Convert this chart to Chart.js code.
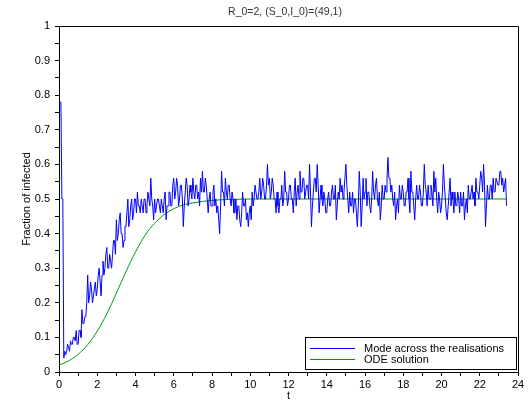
<!DOCTYPE html>
<html>
<head>
<meta charset="utf-8">
<style>
html,body{margin:0;padding:0;background:#fff;}
#wrap{width:532px;height:402px;}
</style>
<script src="https://cdn.jsdelivr.net/npm/chart.js"></script>
</head>
<body>
<div id="wrap"><canvas id="c" width="532" height="402"></canvas></div>
<script>
const chartTitle = 'R_0=2, (S_0,I_0)=(49,1)';
const xAxisTitle = 't';
const yAxisTitle = 'Fraction of infected';
const seriesNames = ['Mode across the realisations', 'ODE solution'];
const xTickLabels = [0, 2, 4, 6, 8, 10, 12, 14, 16, 18, 20, 22, 24];
const yTickLabels = ['0', '0.1', '0.2', '0.3', '0.4', '0.5', '0.6', '0.7', '0.8', '0.9', '1'];

// mode of the realisations, sampled every 0.05 time units from t = 0 (one row = 1 time unit)
const modeStart = 0;
const modeStep = 0.05;
const modeValues = [
  0.78,0.78,0.78,0.50,0.50,0.04,0.06,0.05,0.06,0.08,0.07,0.06,0.09,0.08,0.08,0.10,0.10,0.09,0.12,0.08,
  0.08,0.12,0.12,0.10,0.18,0.14,0.14,0.16,0.16,0.20,0.28,0.20,0.22,0.26,0.24,0.20,0.22,0.24,0.26,0.22,
  0.24,0.28,0.30,0.26,0.22,0.28,0.32,0.28,0.30,0.34,0.36,0.30,0.30,0.34,0.32,0.30,0.34,0.38,0.38,0.34,
  0.44,0.38,0.40,0.44,0.46,0.40,0.40,0.36,0.38,0.42,0.42,0.46,0.50,0.42,0.44,0.48,0.50,0.44,0.46,0.50,
  0.50,0.46,0.52,0.48,0.48,0.46,0.50,0.48,0.46,0.50,0.50,0.46,0.48,0.52,0.50,0.48,0.56,0.50,0.48,0.44,
  0.50,0.46,0.48,0.50,0.50,0.48,0.46,0.50,0.48,0.46,0.50,0.52,0.44,0.48,0.48,0.52,0.52,0.48,0.48,0.54,
  0.56,0.50,0.52,0.56,0.54,0.48,0.50,0.54,0.54,0.50,0.42,0.48,0.52,0.56,0.54,0.48,0.50,0.54,0.52,0.50,
  0.56,0.52,0.50,0.54,0.54,0.50,0.52,0.48,0.56,0.52,0.58,0.52,0.52,0.56,0.54,0.50,0.46,0.50,0.52,0.48,
  0.48,0.52,0.54,0.48,0.50,0.46,0.48,0.44,0.40,0.48,0.58,0.52,0.52,0.48,0.56,0.52,0.50,0.54,0.54,0.50,
  0.48,0.52,0.50,0.46,0.46,0.50,0.44,0.48,0.48,0.44,0.42,0.46,0.52,0.48,0.48,0.50,0.44,0.46,0.42,0.46,
  0.48,0.44,0.52,0.48,0.50,0.54,0.54,0.50,0.50,0.52,0.56,0.50,0.52,0.56,0.54,0.50,0.50,0.54,0.60,0.54,
  0.56,0.50,0.52,0.56,0.54,0.50,0.50,0.46,0.52,0.48,0.46,0.50,0.50,0.54,0.48,0.50,0.58,0.52,0.52,0.48,
  0.50,0.54,0.54,0.50,0.50,0.46,0.52,0.56,0.48,0.52,0.54,0.50,0.58,0.52,0.52,0.56,0.56,0.50,0.52,0.54,
  0.54,0.50,0.60,0.52,0.42,0.48,0.52,0.56,0.56,0.52,0.60,0.54,0.46,0.50,0.54,0.50,0.48,0.52,0.50,0.46,
  0.46,0.50,0.52,0.48,0.48,0.52,0.54,0.50,0.50,0.54,0.44,0.48,0.52,0.50,0.56,0.52,0.54,0.50,0.52,0.56,
  0.60,0.54,0.50,0.46,0.52,0.48,0.48,0.52,0.46,0.50,0.50,0.46,0.42,0.48,0.58,0.52,0.42,0.48,0.56,0.50,
  0.52,0.56,0.48,0.52,0.52,0.48,0.46,0.50,0.58,0.52,0.50,0.54,0.56,0.50,0.48,0.52,0.44,0.48,0.54,0.50,
  0.50,0.54,0.52,0.56,0.62,0.56,0.56,0.52,0.54,0.50,0.48,0.52,0.44,0.48,0.50,0.46,0.54,0.50,0.50,0.54,
  0.52,0.48,0.48,0.52,0.52,0.56,0.50,0.46,0.58,0.52,0.52,0.48,0.44,0.50,0.54,0.50,0.50,0.54,0.52,0.48,
  0.48,0.52,0.60,0.54,0.52,0.48,0.54,0.50,0.50,0.54,0.52,0.48,0.58,0.52,0.56,0.50,0.46,0.52,0.50,0.46,
  0.48,0.52,0.60,0.54,0.50,0.46,0.44,0.48,0.52,0.56,0.48,0.52,0.50,0.46,0.52,0.48,0.48,0.52,0.50,0.46,
  0.52,0.48,0.48,0.52,0.44,0.48,0.50,0.46,0.54,0.50,0.50,0.52,0.54,0.50,0.52,0.48,0.56,0.52,0.52,0.50,
  0.54,0.58,0.56,0.52,0.60,0.54,0.42,0.48,0.54,0.50,0.50,0.54,0.54,0.50,0.56,0.52,0.52,0.56,0.56,0.54,
  0.54,0.58,0.58,0.54,0.56,0.52,0.54,0.56,0.48
];

// ODE solution read at these times
const odeTimes  = [0, 0.5, 1, 1.5, 2, 2.5, 3, 3.5, 4, 4.5, 5, 5.5, 6, 6.5, 7, 7.5, 8, 9, 10, 12, 16, 20, 23.4];
const odeValues = [0.02, 0.032, 0.051, 0.079, 0.118, 0.168, 0.228, 0.29, 0.347, 0.395, 0.43, 0.455, 0.472, 0.483, 0.489, 0.493, 0.496, 0.499, 0.5, 0.5, 0.5, 0.5, 0.5];

const FONT = '"Liberation Sans", Arial, Helvetica, sans-serif';
Chart.defaults.font.family = FONT;
Chart.defaults.color = '#000';

const modeData = modeValues.map((v, i) => ({ x: +(modeStart + i * modeStep).toFixed(3), y: v }));
const odeData = odeTimes.map((t, i) => ({ x: t, y: odeValues[i] }));

const framePlugin = {
  id: 'frame',
  afterDraw(chart) {
    const { ctx, chartArea: a } = chart;
    ctx.save();
    ctx.strokeStyle = '#000';
    ctx.lineWidth = 1;
    ctx.beginPath();
    ctx.moveTo(Math.round(a.left), Math.round(a.top) + 0.5);
    ctx.lineTo(Math.round(a.right) + 0.5, Math.round(a.top) + 0.5);
    ctx.lineTo(Math.round(a.right) + 0.5, Math.round(a.bottom));
    ctx.stroke();
    // title
    ctx.fillStyle = '#333';
    ctx.font = '10.5px ' + FONT;
    ctx.textAlign = 'center';
    ctx.textBaseline = 'middle';
    ctx.fillText(chartTitle, 285, 12);
    // legend box
    const bx = 305, by = 337, bw = 211, bh = 32;
    ctx.fillStyle = '#fff';
    ctx.fillRect(bx, by, bw, bh);
    ctx.strokeStyle = '#000';
    ctx.strokeRect(bx + 0.5, by + 0.5, bw, bh);
    const rows = [348.5, 359.5];
    chart.data.datasets.forEach((ds, i) => {
      ctx.strokeStyle = ds.borderColor;
      ctx.lineWidth = 1;
      ctx.beginPath();
      ctx.moveTo(310, rows[i]);
      ctx.lineTo(355, rows[i]);
      ctx.stroke();
      ctx.fillStyle = '#000';
      ctx.font = '11px ' + FONT;
      ctx.textAlign = 'left';
      ctx.textBaseline = 'middle';
      ctx.fillText(ds.label, 364, rows[i]);
    });
    ctx.restore();
  }
};

new Chart(document.getElementById('c'), {
  type: 'line',
  data: {
    datasets: [
      { label: seriesNames[0], data: modeData, borderColor: '#0000ff', borderWidth: 1, pointRadius: 0, tension: 0, fill: false },
      { label: seriesNames[1], data: odeData, borderColor: '#009a00', borderWidth: 1, pointRadius: 0, cubicInterpolationMode: 'monotone', fill: false }
    ]
  },
  options: {
    responsive: false,
    animation: false,
    devicePixelRatio: 1,
    layout: { padding: { top: 26, right: 14, bottom: 0, left: 0 } },
    plugins: { legend: { display: false }, title: { display: false }, tooltip: { enabled: false } },
    scales: {
      x: {
        type: 'linear', min: 0, max: 24,
        ticks: {
          stepSize: 1, autoSkip: false, maxRotation: 0, padding: 2,
          font: { size: 11 }, color: '#000',
          callback: (v) => { const l = xTickLabels.find(t => Math.abs(t - v) < 1e-6); return l === undefined ? '' : String(l); }
        },
        grid: { display: true, drawOnChartArea: false, drawTicks: true, tickLength: 4, color: '#000', lineWidth: 1 },
        border: { display: true, color: '#000', width: 1 },
        title: { display: true, text: xAxisTitle, font: { size: 11 }, color: '#000', padding: { top: 0, bottom: -1 } },
        afterFit: (s) => { s.height = 30; }
      },
      y: {
        type: 'linear', min: 0, max: 1,
        ticks: {
          stepSize: 0.05, autoSkip: false, padding: 5,
          font: { size: 11 }, color: '#000',
          callback: (v) => { const l = yTickLabels.find(t => Math.abs(Number(t) - v) < 1e-6); return l === undefined ? '' : l; }
        },
        grid: { display: true, drawOnChartArea: false, drawTicks: true, tickLength: 4, color: '#000', lineWidth: 1 },
        border: { display: true, color: '#000', width: 1 },
        title: { display: true, text: yAxisTitle, font: { size: 11 }, color: '#000', padding: { top: 20, bottom: 0 } },
        afterFit: (s) => { s.width = 59; }
      }
    }
  },
  plugins: [framePlugin]
});
</script>
</body>
</html>
